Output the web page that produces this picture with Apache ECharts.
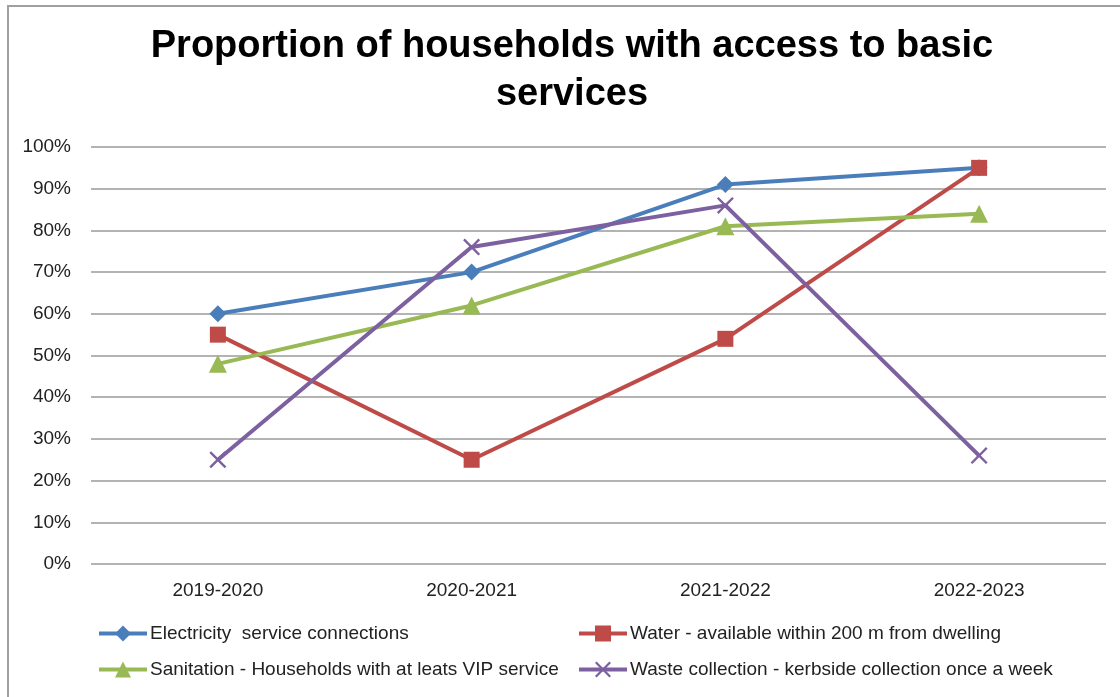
<!DOCTYPE html>
<html>
<head>
<meta charset="utf-8">
<script src="https://cdn.jsdelivr.net/npm/echarts@6/dist/echarts.min.js"></script>
<style>
  html, body { margin: 0; padding: 0; background: #fff; }
  #chart { width: 1120px; height: 697px; }
</style>
</head>
<body>
<div id="chart"></div>
<script>
// Survey years on the category axis
const years = ['2019-2020', '2020-2021', '2021-2022', '2022-2023'];

// Share of households (%) with each service
const electricity = [60, 70, 91, 95];
const water = [55, 25, 54, 95];
const sanitation = [48, 62, 81, 84];
const waste = [25, 76, 86, 26];

const seriesNames = [
  'Electricity  service connections',
  'Water - available within 200 m from dwelling',
  'Sanitation - Households with at leats VIP service',
  'Waste collection - kerbside collection once a week'
];

const yTicks = [0, 10, 20, 30, 40, 50, 60, 70, 80, 90, 100];

const FONT = '"Liberation Sans", Arial, sans-serif';
const crossPath = 'path://M0,1L1,0L5,4L9,0L10,1L6,5L10,9L9,10L5,6L1,10L0,9L4,5Z';

function lineSeries(name, data, color, symbol, size) {
  return {
    name: name,
    type: 'line',
    data: data,
    symbol: symbol,
    symbolSize: size,
    showAllSymbol: true,
    lineStyle: { color: color, width: 4 },
    itemStyle: { color: color },
    emphasis: { disabled: true },
    z: 3
  };
}

const legendBase = {
  orient: 'vertical',
  top: 624,
  padding: 0,
  itemWidth: 48,
  itemHeight: 20,
  itemGap: 17,
  lineStyle: { width: 4 },
  textStyle: { fontFamily: FONT, fontSize: 19, color: '#222', padding: [0, 0, 0, -2] }
};

const chart = echarts.init(document.getElementById('chart'), null, { renderer: 'canvas' });

chart.setOption({
  animation: false,
  backgroundColor: '#ffffff',
  title: {
    text: 'Proportion of households with access to basic\nservices',
    left: 567,
    textAlign: 'center',
    top: 18,
    textStyle: {
      fontFamily: FONT,
      fontWeight: 'bold',
      fontSize: 38,
      lineHeight: 48,
      color: '#000'
    }
  },
  graphic: [{
    type: 'rect',
    shape: { x: 8, y: 6, width: 1200, height: 800 },
    style: { fill: 'none', stroke: '#a0a0a0', lineWidth: 2 },
    silent: true,
    z: 0
  }],
  legend: [
    Object.assign({ data: [seriesNames[0], seriesNames[2]], left: 97 }, legendBase),
    Object.assign({ data: [seriesNames[1], seriesNames[3]], left: 577 }, legendBase)
  ],
  grid: { left: 91, right: 14, top: 147, bottom: 133, containLabel: false },
  xAxis: {
    type: 'category',
    data: years,
    boundaryGap: true,
    axisLine: { show: false },
    axisTick: { show: false },
    axisLabel: { fontFamily: FONT, fontSize: 19, color: '#222', margin: 17 }
  },
  yAxis: {
    type: 'value',
    min: yTicks[0],
    max: yTicks[yTicks.length - 1],
    interval: 10,
    axisLine: { show: false },
    axisTick: { show: false },
    splitLine: { lineStyle: { color: '#9a9a9a', width: 1.5 } },
    axisLabel: {
      fontFamily: FONT, fontSize: 19, color: '#222', margin: 20,
      formatter: v => v + '%'
    }
  },
  series: [
    lineSeries(seriesNames[0], electricity, '#4a7ebb', 'diamond', 17),
    lineSeries(seriesNames[1], water, '#be4b48', 'rect', 16),
    lineSeries(seriesNames[2], sanitation, '#98b954', 'triangle', 18),
    lineSeries(seriesNames[3], waste, '#7d60a0', crossPath, 17)
  ]
});
</script>
</body>
</html>
